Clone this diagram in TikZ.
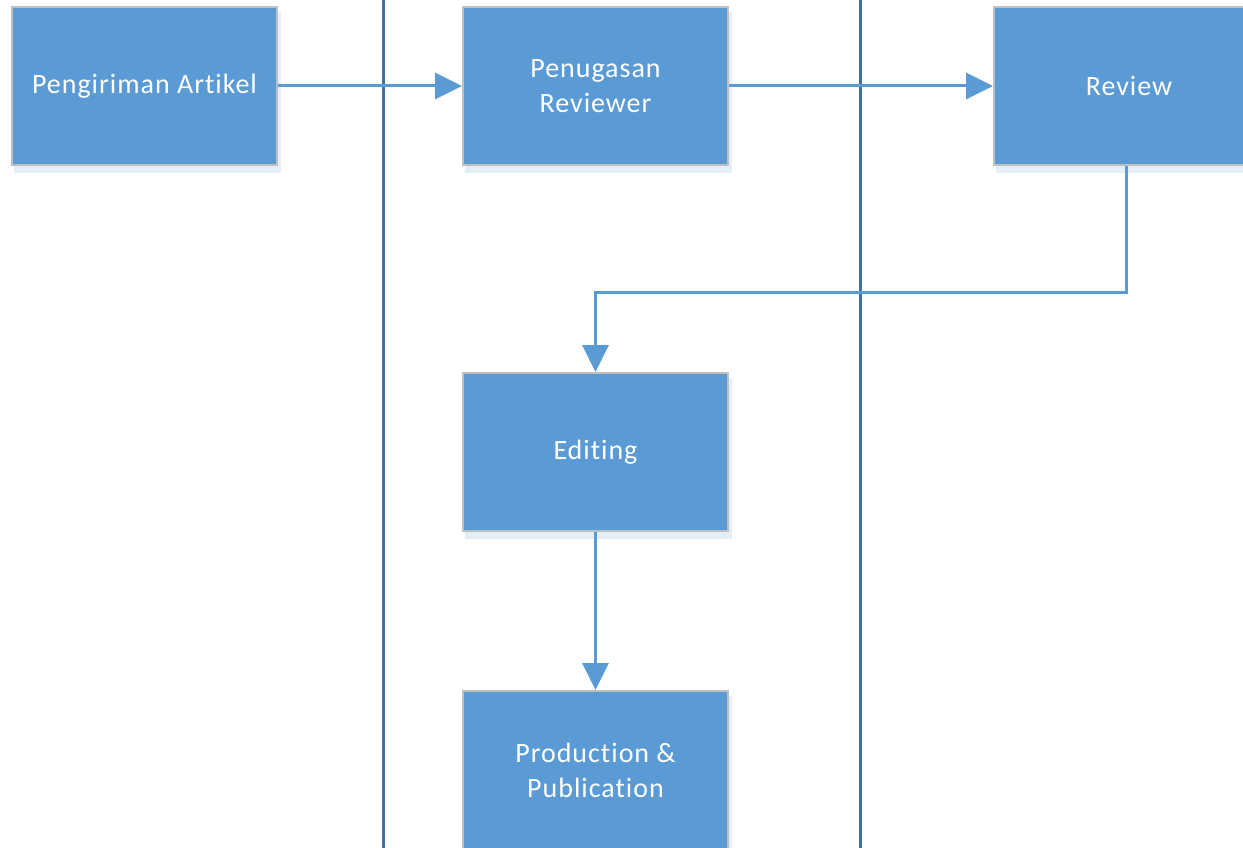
\documentclass[tikz,border=0pt]{standalone}
\usepackage{fontspec}
\setmainfont[Ligatures=NoCommon,LetterSpace=3.5]{Carlito}
\usetikzlibrary{arrows.meta}
\definecolor{boxfill}{HTML}{5B9BD5}
\definecolor{boxline}{HTML}{BFBFBF}
\definecolor{lanecol}{HTML}{41719C}
\definecolor{shadowcol}{HTML}{E4EEF8}
\tikzset{
  procbox/.style={draw=boxline, line width=2pt, fill=boxfill, text=white,
    minimum width=265pt, minimum height=158pt, inner sep=0pt, align=center,
    font=\fontsize{28}{35}\selectfont, anchor=north west},
  flow/.style={draw=boxfill, line width=3pt, -{Triangle[length=27pt,width=26pt]}},
  lane/.style={draw=lanecol, line width=3pt},
}
\begin{document}
\begin{tikzpicture}[x=1pt,y=-1pt]
\useasboundingbox (0,0) rectangle (1243,848);
% shadows
\foreach \x/\y in {11/6, 462/6, 993/6, 462/372, 462/690}{
  \fill[shadowcol] (\x+3,\y+6) rectangle (\x+270,\y+167);
}
% lanes
\coordinate (l1t) at (383,0); \coordinate (l1b) at (383,848);
\coordinate (l2t) at (860,0); \coordinate (l2b) at (860,848);
\draw[lane] (l1t) -- (l1b);
\draw[lane] (l2t) -- (l2b);
% boxes
\node[procbox] (kirim) at (11,6) {Pengiriman Artikel};
\node[procbox] (tugas) at (462,6) {Penugasan\\Reviewer};
\node[procbox, minimum width=270pt] (review) at (993,6) {Review};
\node[procbox] (edit) at (462,372) {Editing};
\node[procbox] (prod) at (462,690) {Production \&\\Publication};
% connectors
\draw[flow] (kirim.east) -- (tugas.west);
\draw[flow] (tugas.east) -- (review.west);
\draw[flow] (review.south -| 1126,0) -- (1126,292) -- (edit.north |- 0,292) -- (edit.north);
\draw[flow] (edit.south) -- (prod.north);
\end{tikzpicture}
\end{document}
